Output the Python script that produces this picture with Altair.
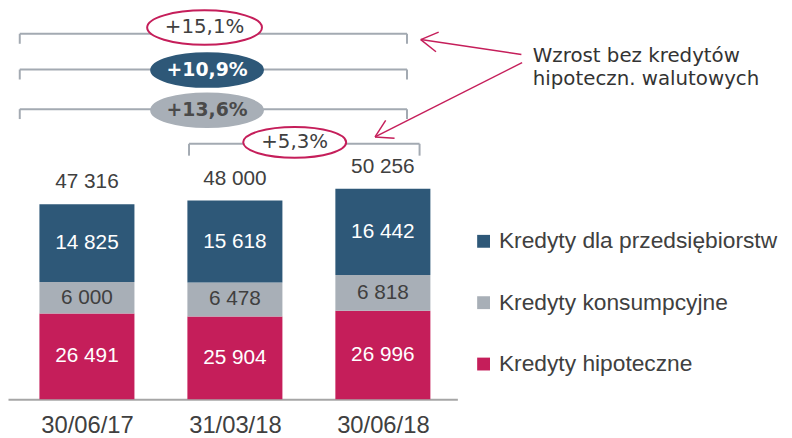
import json
import altair as alt
import pandas as pd

# ---------------- data ----------------
categories = ["30/06/17", "31/03/18", "30/06/18"]
series_names = ["Kredyty dla przedsiębiorstw", "Kredyty konsumpcyjne", "Kredyty hipoteczne"]
corporate = [14825, 15618, 16442]
consumer = [6000, 6478, 6818]
mortgage = [26491, 25904, 26996]
totals = [47316, 48000, 50256]
series_colors = ["#2E5878", "#A8AFB7", "#C51E5A"]

growth_labels = ["+15,1%", "+10,9%", "+13,6%", "+5,3%"]
note_lines = ["Wzrost bez kredytów", "hipoteczn. walutowych"]

# ---------------- scales / layout ----------------
Y_DOMAIN = [10150, 84300]   # value axis is truncated in the source chart
X_DOMAIN = [-0.5, 2.47]     # category index units
PLOT_W, PLOT_H = 454, 393
BLUE, GRAY, RED = series_colors
TXT = "#404040"
ARIAL = "Liberation Sans"
GOTHIC = "DejaVu Sans"


def fmt(v):
    return f"{v:,}".replace(",", " ")


rows = []
for i, cat in enumerate(categories):
    base = 0
    for name, vals in [(series_names[2], mortgage), (series_names[1], consumer), (series_names[0], corporate)]:
        v = vals[i]
        lo, hi = base, base + v
        rows.append(dict(idx=i, category=cat, series=name, value=v, y0=lo, y1=hi,
                         mid=(max(lo, Y_DOMAIN[0]) + hi) / 2, label=fmt(v)))
        base = hi
seg = pd.DataFrame(rows)
tot = pd.DataFrame(dict(idx=list(range(len(categories))), total=totals, label=[fmt(t) for t in totals]))

# annotation geometry in data units (category index, value)
brackets = [  # x_left, x_right, y_line, y_tick_end
    (-0.454, 2.163, 79800, 77900),
    (-0.454, 2.163, 72980, 71090),
    (-0.454, 2.163, 65430, 63550),
    (0.690, 2.248, 58830, 56570),
]
br_rows = []
for xl, xr, yl, yt in brackets:
    br_rows.append(dict(x=xl, x2=xr, y=yl, y2=yl))
    br_rows.append(dict(x=xl, x2=xl, y=yl, y2=yt))
    br_rows.append(dict(x=xr, x2=xr, y=yl, y2=yt))
br = pd.DataFrame(br_rows)

bub = pd.DataFrame(dict(
    x=[0.795, 0.812, 0.812, 1.404],
    y=[81000, 72886, 65244, 59112],
    w=[116, 113, 113, 104],
    fill=["white", BLUE, GRAY, "white"],
    stroke=[RED, BLUE, GRAY, RED],
    text=growth_labels,
    tcolor=[TXT, "white", "#4A4A4A", TXT],
    bold=[False, True, True, False],
))
bub["size"] = bub["w"] ** 2

arrows = pd.DataFrame([
    dict(x=2.936, y=75867, x2=2.256, y2=78697),
    dict(x=2.256, y=78697, x2=2.359, y2=76376),
    dict(x=2.256, y=78697, x2=2.377, y2=80112),
    dict(x=2.941, y=74301, x2=1.947, y2=60150),
    dict(x=1.947, y=60150, x2=2.079, y2=59905),
    dict(x=1.947, y=60150, x2=2.019, y2=63282),
])
note = pd.DataFrame(dict(x=[3.013, 3.013], y=[74490, 70056], text=note_lines))

ELLIPSE = "M -1 0 A 1 0.3 0 1 1 1 0 A 1 0.3 0 1 1 -1 0 Z"

xs = alt.Scale(domain=X_DOMAIN, nice=False, zero=False)
ys = alt.Scale(domain=Y_DOMAIN, nice=False, zero=False, clamp=True)
xaxis = alt.Axis(
    values=list(range(len(categories))),
    labelExpr=json.dumps(categories) + "[datum.value]",
    ticks=False, grid=False, title=None,
    domainColor="#A6A6A6", domainWidth=2,
    labelFont=ARIAL, labelFontSize=24, labelColor=TXT, labelPadding=15,
    labelFlush=False, labelOverlap=False,
)


def X(f):
    return alt.X(f"{f}:Q", scale=xs, axis=xaxis)


def Y(f):
    return alt.Y(f"{f}:Q", scale=ys, axis=None)


bars = alt.Chart(seg).mark_bar(size=96).encode(
    x=X("idx"), y=Y("y0"), y2="y1:Q",
    color=alt.Color("series:N", scale=alt.Scale(domain=series_names, range=series_colors),
                    legend=alt.Legend(orient="none", legendX=469, legendY=222, title=None,
                                      symbolType="square", symbolSize=169, symbolStrokeWidth=0,
                                      labelFont=ARIAL, labelFontSize=23, labelColor=TXT,
                                      labelOffset=4, rowPadding=38, padding=0, labelLimit=400)),
)

seg_labels = alt.Chart(seg).mark_text(font=ARIAL, fontSize=21, baseline="middle").encode(
    x=X("idx"), y=Y("mid"), text="label:N",
    color=alt.condition(alt.datum.series == series_names[1], alt.value(TXT), alt.value("white")),
)

tot_labels = alt.Chart(tot).mark_text(font=ARIAL, fontSize=21, baseline="alphabetic", dy=-16, color=TXT).encode(
    x=X("idx"), y=Y("total"), text="label:N",
)

bracket_rules = alt.Chart(br).mark_rule(color="#A3AAB2", strokeWidth=2).encode(
    x=X("x"), x2="x2:Q", y=Y("y"), y2="y2:Q",
)

bubbles = alt.Chart(bub).mark_point(shape=ELLIPSE, filled=True, opacity=1, strokeWidth=2).encode(
    x=X("x"), y=Y("y"),
    size=alt.Size("size:Q", scale=None, legend=None),
    fill=alt.Fill("fill:N", scale=None, legend=None),
    stroke=alt.Stroke("stroke:N", scale=None, legend=None),
)

pct_normal = alt.Chart(bub).transform_filter("!datum.bold").mark_text(
    font=GOTHIC, fontSize=20, baseline="middle").encode(
    x=X("x"), y=Y("y"), text="text:N", color=alt.Color("tcolor:N", scale=None, legend=None),
)
pct_bold = alt.Chart(bub).transform_filter("datum.bold").mark_text(
    font=GOTHIC, fontSize=19, fontWeight="bold", baseline="middle").encode(
    x=X("x"), y=Y("y"), text="text:N", color=alt.Color("tcolor:N", scale=None, legend=None),
)

arrow_rules = alt.Chart(arrows).mark_rule(color=RED, strokeWidth=1.5).encode(
    x=X("x"), x2="x2:Q", y=Y("y"), y2="y2:Q",
)

note_text = alt.Chart(note).mark_text(font=GOTHIC, fontSize=20, align="left", baseline="alphabetic",
                                      color="#333333").encode(
    x=X("x"), y=Y("y"), text="text:N",
)

chart = alt.layer(
    bars, seg_labels, tot_labels, bracket_rules, bubbles, pct_normal, pct_bold, arrow_rules, note_text
).properties(
    width=PLOT_W, height=PLOT_H,
    autosize=alt.AutoSizeParams(type="none"),
    padding={"left": 0, "top": 0, "right": 330, "bottom": 37},
    background="white",
).configure_view(stroke=None, strokeWidth=0)

chart.save("out.html", embed_options={"renderer": "svg", "actions": False})
